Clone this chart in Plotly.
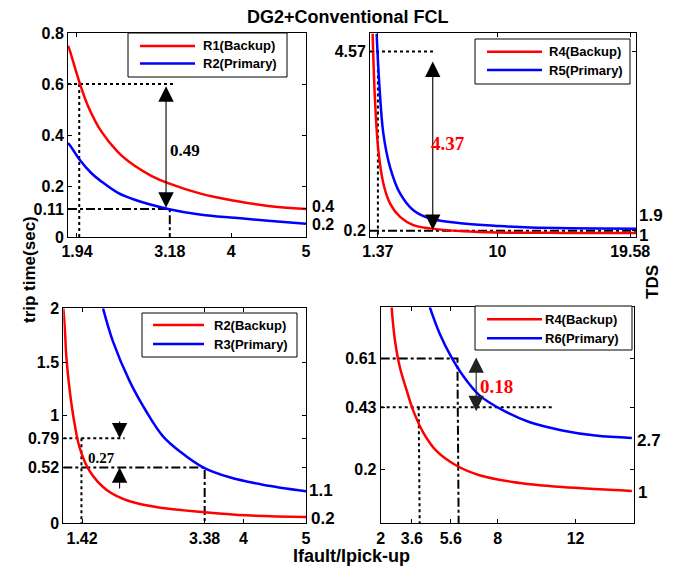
import plotly.graph_objects as go

W, H = 676, 569

# ---------------- data ----------------
# Subplot 1: R1 (backup) / R2 (primary)
s1_x_r1 = [1.82, 1.84, 1.976, 2.087, 2.265, 2.488, 2.711, 2.933, 3.157, 3.602, 4.048, 4.493, 5.0]
s1_y_r1 = [0.75, 0.735, 0.604, 0.514, 0.414, 0.333, 0.279, 0.240, 0.211, 0.169, 0.142, 0.122, 0.110]
s1_x_r2 = [1.82, 1.84, 1.976, 2.13, 2.265, 2.488, 2.711, 3.157, 3.602, 4.048, 4.493, 5.0]
s1_y_r2 = [0.368, 0.362, 0.303, 0.251, 0.218, 0.173, 0.146, 0.110, 0.087, 0.075, 0.064, 0.052]

# Subplot 2: R4 (backup) / R5 (primary)
s2_x_r4 = [0.99, 1.16, 1.40, 1.76, 2.24, 2.97, 3.93, 5.13, 7.54, 9.95, 14.8, 20.0]
s2_y_r4 = [5.0, 3.39, 2.17, 1.36, 0.87, 0.54, 0.34, 0.26, 0.19, 0.16, 0.15, 0.15]
s2_x_r5 = [1.28, 1.47, 1.76, 2.24, 2.97, 3.93, 5.13, 7.54, 9.95, 12.35, 20.0]
s2_y_r5 = [5.0, 3.79, 2.58, 1.76, 1.11, 0.70, 0.50, 0.38, 0.32, 0.28, 0.25]

# Subplot 3: R2 (backup) / R3 (primary)
s3_x_r2 = [1.12, 1.144, 1.17, 1.224, 1.303, 1.383, 1.543, 1.808, 2.182, 2.714, 3.353, 4.045, 5.0]
s3_y_r2 = [2.0, 1.817, 1.538, 1.228, 0.917, 0.700, 0.484, 0.313, 0.205, 0.142, 0.105, 0.074, 0.059]
s3_x_r3 = [1.755, 1.915, 2.182, 2.447, 2.714, 2.98, 3.353, 3.78, 4.31, 5.0]
s3_y_r3 = [2.0, 1.69, 1.32, 1.04, 0.809, 0.670, 0.521, 0.428, 0.359, 0.298]

# Subplot 4: R4 (backup) / R6 (primary)
s4_x_r4 = [2.56, 2.73, 2.98, 3.33, 3.66, 4.17, 4.86, 5.88, 7.07, 8.77, 11.32, 14.89]
s4_y_r4 = [0.80, 0.678, 0.579, 0.493, 0.419, 0.338, 0.268, 0.214, 0.178, 0.153, 0.134, 0.120]
s4_x_r6 = [4.52, 5.03, 5.62, 6.21, 7.07, 8.26, 9.62, 11.32, 13.02, 14.89]
s4_y_r6 = [0.80, 0.702, 0.616, 0.548, 0.474, 0.419, 0.375, 0.344, 0.325, 0.316]

# Tick labels
s1_xticks = [1.94, 3.18, 4, 5];        s1_xtext = ["1.94", "3.18", "4", "5"]
s1_yticks = [0, 0.11, 0.2, 0.4, 0.6, 0.8]; s1_ytext = ["0", "0.11", "0.2", "0.4", "0.6", "0.8"]
s2_xticks = [1.37, 10, 19.58];          s2_xtext = ["1.37", "10", "19.58"]
s2_yticks = [0.2, 4.57];                s2_ytext = ["0.2", "4.57"]
s3_xticks = [1.42, 3.38, 4, 5];         s3_xtext = ["1.42", "3.38", "4", "5"]
s3_yticks = [0, 0.52, 0.79, 1, 1.5, 2]; s3_ytext = ["0", "0.52", "0.79", "1", "1.5", "2"]
s4_xticks = [2, 3.6, 5.6, 8, 12];       s4_xtext = ["2", "3.6", "5.6", "8", "12"]
s4_yticks = [0.2, 0.43, 0.61];          s4_ytext = ["0.2", "0.43", "0.61"]

# Legend names
s1_names = ["R1(Backup)", "R2(Primary)"]
s2_names = ["R4(Backup)", "R5(Primary)"]
s3_names = ["R2(Backup)", "R3(Primary)"]
s4_names = ["R4(Backup)", "R6(Primary)"]

# TDS labels at right side of each panel
s1_tds = ["0.4", "0.2"]
s2_tds = ["1.9", "1"]
s3_tds = ["1.1", "0.2"]
s4_tds = ["2.7", "1"]

# Margin annotations (values)
s1_gap = "0.49"; s2_gap = "4.37"; s3_gap = "0.27"; s4_gap = "0.18"

# ---------------- helpers ----------------
def px(xp):
    return xp / W

def py(yp):
    return 1 - yp / H

RED = "#ff0000"
BLUE = "#0000ff"
SANS = "Liberation Sans, Arial, sans-serif"
SERIF = "Liberation Serif, Times New Roman, serif"

fig = go.Figure()

panels = [
    ("x", "y", (68, 306), (33, 237), [1.82, 5], [0, 0.8], s1_xticks, s1_xtext, s1_yticks, s1_ytext),
    ("x2", "y2", (370, 636), (33, 237), [0.8, 20], [0.05, 5.02], s2_xticks, s2_xtext, s2_yticks, s2_ytext),
    ("x3", "y3", (63.3, 306), (308.3, 523.3), [1.12, 5], [0, 2], s3_xticks, s3_xtext, s3_yticks, s3_ytext),
    ("x4", "y4", (380.7, 634), (307.3, 523.3), [2, 15], [0, 0.8], s4_xticks, s4_xtext, s4_yticks, s4_ytext),
]

tickfont = dict(family=SANS, size=16, color="black", weight="bold")
layout_axes = {}
for xa, ya, (xl, xr), (yt, yb), xrng, yrng, xtv, xtt, ytv, ytt in panels:
    xname = "xaxis" + xa[1:]
    yname = "yaxis" + ya[1:]
    common = dict(showline=True, linecolor="black", linewidth=1, mirror="ticks",
                  ticks="inside", ticklen=4, tickcolor="black", showgrid=False,
                  zeroline=False, tickfont=tickfont, automargin=False, fixedrange=True)
    layout_axes[xname] = dict(common, domain=[px(xl), px(xr)], range=xrng,
                              tickmode="array", tickvals=xtv, ticktext=xtt, anchor=ya)
    layout_axes[yname] = dict(common, domain=[py(yb), py(yt)], range=yrng,
                              tickmode="array", tickvals=ytv, ticktext=ytt, anchor=xa)

def curve(x, y, color, xa, ya):
    fig.add_trace(go.Scatter(x=x, y=y, mode="lines", xaxis=xa, yaxis=ya,
                             line=dict(color=color, width=2.5, shape="spline", smoothing=1.0),
                             showlegend=False, hoverinfo="skip"))

def refline(x, y, dash, xa, ya, color="black"):
    fig.add_trace(go.Scatter(x=x, y=y, mode="lines", xaxis=xa, yaxis=ya,
                             line=dict(color=color, width=2, dash=dash),
                             showlegend=False, hoverinfo="skip"))

refline([1.82, 3.25, None, 1.97, 1.97], [0.6, 0.6, None, 0.6, 0], "dot", "x", "y")
refline([1.82, 3.18, 3.18], [0.11, 0.11, 0], "dashdot", "x", "y")

refline([0.8, 5.49, None, 1.37, 1.37], [4.57, 4.57, None, 4.57, 0.05], "dot", "x2", "y2")
refline([0.8, 20], [0.2, 0.2], "dashdot", "x2", "y2")

refline([1.12, 2.10, None, 1.41, 1.41], [0.79, 0.79, None, 0.79, 0], "dot", "x3", "y3")
refline([1.12, 3.38, 3.38], [0.52, 0.52, 0], "dashdot", "x3", "y3")

refline([2, 10.8, None, 3.95, 4.0], [0.43, 0.43, None, 0.43, 0], "dot", "x4", "y4")
refline([2, 5.94, 5.94, 6.0], [0.61, 0.61, 0.58, 0], "dashdot", "x4", "y4")

curve(s1_x_r1, s1_y_r1, RED, "x", "y")
curve(s1_x_r2, s1_y_r2, BLUE, "x", "y")
curve(s2_x_r4, s2_y_r4, RED, "x2", "y2")
curve(s2_x_r5, s2_y_r5, BLUE, "x2", "y2")
curve(s3_x_r2, s3_y_r2, RED, "x3", "y3")
curve(s3_x_r3, s3_y_r3, BLUE, "x3", "y3")
curve(s4_x_r4, s4_y_r4, RED, "x4", "y4")
curve(s4_x_r6, s4_y_r6, BLUE, "x4", "y4")

annotations = []
shapes = []

def arrow(xa, ya, x, y, ax, ay, both=False, color="black"):
    annotations.append(dict(x=x, y=y, xref=xa, yref=ya, ax=ax, ay=ay, axref=xa, ayref=ya,
                            text="", showarrow=True, arrowhead=2, arrowsize=2.8,
                            arrowwidth=1.1, arrowcolor=color,
                            arrowside="end+start" if both else "end",
                            standoff=0, startstandoff=0))

arrow("x", "y", 3.13, 0.115, 3.13, 0.597, both=True)
arrow("x2", "y2", 5.33, 0.22, 5.33, 4.36, both=True)
arrow("x3", "y3", 2.02, 0.79, 2.02, 0.96)
arrow("x3", "y3", 2.02, 0.52, 2.02, 0.31)
arrow("x4", "y4", 6.9, 0.415, 6.9, 0.62, both=True, color="#222222")

def txt(xa, ya, x, y, s, color, size, family=SERIF):
    annotations.append(dict(x=x, y=y, xref=xa, yref=ya, text=s, showarrow=False,
                            font=dict(family=family, size=size, color=color, weight="bold")))

txt("x", "y", 3.38, 0.34, s1_gap, "black", 17)
txt("x2", "y2", 6.45, 2.33, s2_gap, RED, 19)
txt("x3", "y3", 1.73, 0.61, s3_gap, "black", 15)
txt("x4", "y4", 7.92, 0.506, s4_gap, RED, 19)

def ptxt(xp, yp, s, size=16, xanchor="left", angle=0):
    annotations.append(dict(x=px(xp), y=py(yp), xref="paper", yref="paper", text=s,
                            showarrow=False, xanchor=xanchor, yanchor="middle",
                            textangle=angle,
                            font=dict(family=SANS, size=size, color="black", weight="bold")))

ptxt(310, 207, s1_tds[0], size=16); ptxt(310, 225, s1_tds[1], size=16)
ptxt(637, 215, s2_tds[0], size=17); ptxt(637, 235, s2_tds[1], size=17)
ptxt(307, 490, s3_tds[0], size=17); ptxt(309, 518, s3_tds[1], size=17)
ptxt(635, 440, s4_tds[0], size=17); ptxt(636, 492, s4_tds[1], size=17)

ptxt(348, 17, "DG2+Conventional FCL", size=18, xanchor="center")
ptxt(29, 269, "trip time(sec)", size=17, xanchor="center", angle=-90)
ptxt(652, 282, "TDS", size=17, xanchor="center", angle=-90)
ptxt(351, 556, "Ifault/Ipick-up", size=18, xanchor="center")

def legend(box, ly, lx, tx, names):
    x0, y0, x1, y1 = box
    shapes.append(dict(type="rect", xref="paper", yref="paper",
                       x0=px(x0), x1=px(x1), y0=py(y1), y1=py(y0),
                       line=dict(color="black", width=1), fillcolor="white", layer="above"))
    for yy, col, name in zip(ly, [RED, BLUE], names):
        shapes.append(dict(type="line", xref="paper", yref="paper",
                           x0=px(lx[0]), x1=px(lx[1]), y0=py(yy), y1=py(yy),
                           line=dict(color=col, width=2.5), layer="above"))
        annotations.append(dict(x=px(tx), y=py(yy), xref="paper", yref="paper", text=name,
                                showarrow=False, xanchor="left", yanchor="middle",
                                font=dict(family=SANS, size=13, color="black", weight="bold")))

legend((128, 33, 287, 77), (46, 63.5), (140, 195), 201, s1_names)
legend((475, 39, 630, 84), (51.7, 70), (487, 542), 547, s2_names)
legend((142, 313, 297, 357), (325, 344), (153, 204), 212, s3_names)
legend((475, 306, 632, 350), (319.3, 338.3), (487, 542), 543, s4_names)

fig.update_layout(width=W, height=H, margin=dict(l=0, r=0, t=0, b=0),
                  paper_bgcolor="white", plot_bgcolor="white",
                  annotations=annotations, shapes=shapes, showlegend=False,
                  **layout_axes)

fig.write_html("out.html", config={"displayModeBar": False},
               post_script="document.body.style.margin='0';document.body.style.padding='0';")
